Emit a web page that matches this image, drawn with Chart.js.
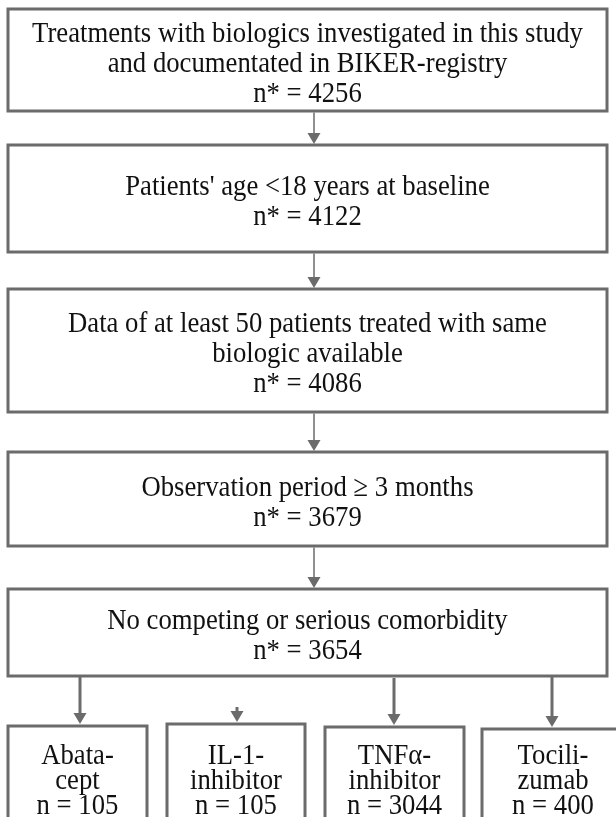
<!DOCTYPE html>
<html>
<head>
<meta charset="utf-8">
<script src="https://cdn.jsdelivr.net/npm/chart.js@4"></script>
<style>
  html, body { margin: 0; padding: 0; background: #fff; }
  #wrap { width: 616px; height: 817px; }
</style>
</head>
<body>
<div id="wrap"><canvas id="flow"></canvas></div>
<script>
// steps of the selection
const stepLines = [
  ["Treatments with biologics investigated in this study", "and documentated in BIKER-registry"],
  ["Patients' age <18 years at baseline"],
  ["Data of at least 50 patients treated with same", "biologic available"],
  ["Observation period \u2265 3 months"],
  ["No competing or serious comorbidity"]
];
const stepCounts = [4256, 4122, 4086, 3679, 3654];

// final groups
const groupNames = [["Abata-", "cept"], ["IL-1-", "inhibitor"], ["TNF\u03b1-", "inhibitor"], ["Tocili-", "zumab"]];
const groupCounts = [105, 105, 3044, 400];

// layout (in axis units, 1 unit = 1 px)
const stepTop = [9, 145, 289, 452, 589];
const stepBottom = [111, 252, 412, 546, 676];
const stepLeft = 8, stepRight = 607;
const groupLeft = [8, 167, 325, 482];
const groupRight = [147, 305, 464, 624];
const groupTop = [726, 724, 727, 729];
const groupArrowX = [80, 237, 394, 552];
const groupArrowFrom = [676, 707, 678, 676];
const arrowX = 314;

const FONT = '"Liberation Serif", "Times New Roman", serif';
const FONT_SIZE = 30;
const SQUEEZE = 0.89;
const LINE_H = 30;
const BORDER = "#6b6b6b";
const TEXT = "#111";

function drawText(ctx, lines, cx, cy, lh) {
  ctx.font = FONT_SIZE + "px " + FONT;
  ctx.fillStyle = TEXT;
  ctx.textAlign = "center";
  ctx.textBaseline = "middle";
  lines.forEach((t, i) => {
    const y = cy + (i - (lines.length - 1) / 2) * lh;
    ctx.save();
    ctx.translate(cx, y);
    ctx.scale(SQUEEZE, 1);
    ctx.fillText(t, 0, 0);
    ctx.restore();
  });
}

function drawArrow(ctx, x, y0, y1, w) {
  ctx.strokeStyle = BORDER;
  ctx.fillStyle = BORDER;
  ctx.lineWidth = w;
  ctx.beginPath();
  ctx.moveTo(x, y0);
  ctx.lineTo(x, y1 - 10);
  ctx.stroke();
  ctx.beginPath();
  ctx.moveTo(x - 6.5, y1 - 12);
  ctx.lineTo(x + 6.5, y1 - 12);
  ctx.lineTo(x, y1 - 1);
  ctx.closePath();
  ctx.fill();
}

const flowPlugin = {
  id: "flow",
  afterDraw(chart) {
    const ctx = chart.ctx;
    const sx = chart.scales.x, sy = chart.scales.y;
    const px = v => sx.getPixelForValue(v);
    const py = v => sy.getPixelForValue(v);
    ctx.save();

    stepLines.forEach((lines, i) => {
      const l = px(stepLeft), r = px(stepRight);
      const t = py(stepTop[i]), b = py(stepBottom[i]);
      ctx.lineWidth = 3;
      ctx.strokeStyle = BORDER;
      ctx.strokeRect(l, t, r - l, b - t);
      drawText(ctx, lines.concat(["n* = " + stepCounts[i]]), (l + r) / 2, (t + b) / 2 + 4, LINE_H);
      if (i < stepLines.length - 1) {
        drawArrow(ctx, px(arrowX), b + 1.5, py(stepTop[i + 1]), 1.5);
      }
    });

    groupNames.forEach((lines, i) => {
      const l = px(groupLeft[i]), r = px(groupRight[i]);
      const t = py(groupTop[i]), b = py(840);
      ctx.lineWidth = 3;
      ctx.strokeStyle = BORDER;
      ctx.strokeRect(l, t, r - l, b - t);
      drawText(ctx, lines.concat(["n = " + groupCounts[i]]), (l + r) / 2, py(781), 25);
      drawArrow(ctx, px(groupArrowX[i]), py(groupArrowFrom[i]), t - 1, 3);
    });
    ctx.restore();
  }
};

new Chart(document.getElementById("flow"), {
  type: "scatter",
  data: { datasets: [{ data: [], pointRadius: 0 }] },
  options: {
    responsive: true,
    maintainAspectRatio: false,
    animation: false,
    layout: { padding: 0 },
    plugins: { legend: { display: false }, tooltip: { enabled: false } },
    scales: {
      x: { type: "linear", min: 0, max: 616, display: false },
      y: { type: "linear", min: 0, max: 817, reverse: true, display: false }
    }
  },
  plugins: [flowPlugin]
});
</script>
</body>
</html>
